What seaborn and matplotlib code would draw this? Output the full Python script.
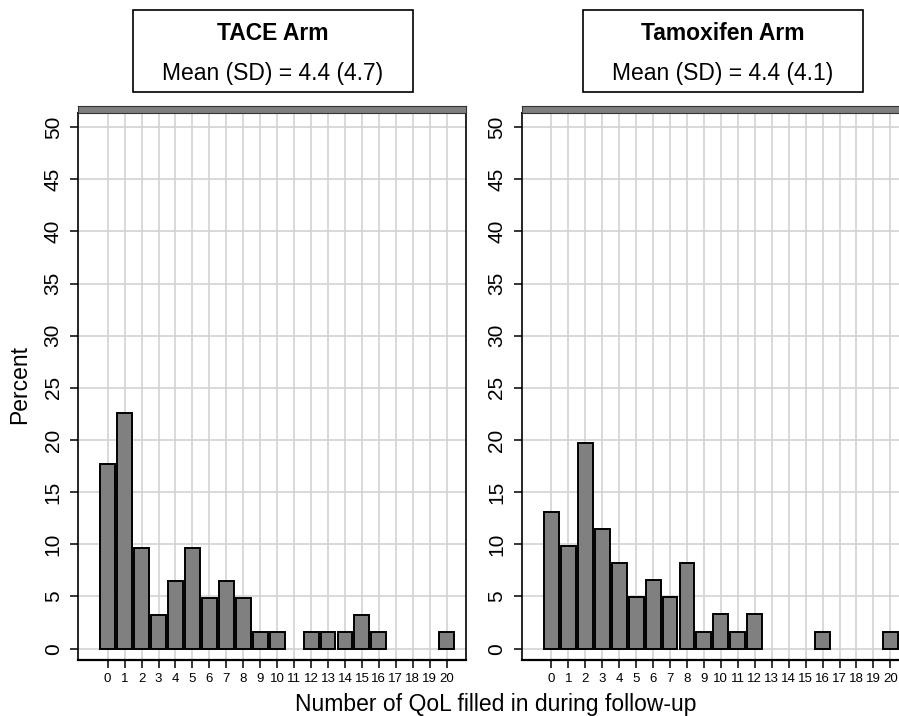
import matplotlib
matplotlib.use("Agg")
import matplotlib.pyplot as plt
from matplotlib.patches import Rectangle
import seaborn as sns
import pandas as pd

# ---- data ----
n_qol = list(range(21))
tace_pct = [17.74, 22.58, 9.68, 3.23, 6.45, 9.68, 4.84, 6.45, 4.84, 1.61, 1.61,
            0, 1.61, 1.61, 1.61, 3.23, 1.61, 0, 0, 0, 1.61]
tam_pct = [13.11, 9.84, 19.67, 11.48, 8.20, 4.92, 6.56, 4.92, 8.20, 1.64, 3.28,
           1.64, 3.28, 0, 0, 0, 1.64, 0, 0, 0, 1.64]
panel_titles = ["TACE Arm", "Tamoxifen Arm"]
panel_stats = ["Mean (SD) = 4.4 (4.7)", "Mean (SD) = 4.4 (4.1)"]
y_ticks = list(range(0, 51, 5))

sns.set_style("white")
plt.rcParams['font.family'] = ['Liberation Sans', 'DejaVu Sans']
plt.rcParams['text.color'] = 'black'
plt.rcParams['axes.labelcolor'] = 'black'
plt.rcParams['xtick.color'] = 'black'
plt.rcParams['ytick.color'] = 'black'

W, H = 899, 716
fig = plt.figure(figsize=(W / 100, H / 100), dpi=100)


def fr(x0, y0, x1, y1):
    return [x0 / W, 1 - y1 / H, (x1 - x0) / W, (y1 - y0) / H]


panels = [
    dict(ax=fr(78, 112.5, 466, 660), strip=fr(78, 106, 466, 112.5),
         box=(133, 10, 413, 92), data=tace_pct),
    dict(ax=fr(521.7, 112.5, 909.7, 660), strip=fr(521.7, 106, 909.7, 112.5),
         box=(583, 10, 863, 92), data=tam_pct),
]

for i, p in enumerate(panels):
    ax = fig.add_axes(p["ax"])
    df = pd.DataFrame({"n": n_qol, "pct": p["data"]})
    df = df[df["pct"] > 0]
    sns.barplot(data=df, x="n", y="pct", native_scale=True, width=0.88,
                color="#808080", saturation=1, edgecolor="black",
                linewidth=1.4, ax=ax, zorder=3)
    ax.set_xlim(-1.75, 21.14)
    ax.set_ylim(-1.09, 51.4)
    ax.set_xticks(n_qol)
    ax.set_xticklabels([str(v) for v in n_qol], fontsize=9.5, color="black")
    ax.set_yticks(y_ticks)
    ax.set_yticklabels([str(v) for v in y_ticks], fontsize=15, rotation=90,
                       va="center", color="black")
    ax.tick_params(axis="x", direction="out", length=6, width=1.1, pad=3,
                   bottom=True, colors="black")
    ax.tick_params(axis="y", direction="out", length=6, width=1.1, pad=5,
                   left=True, colors="black")
    ax.grid(True, color="#d3d3d3", linewidth=1.2, zorder=0)
    ax.set_axisbelow(True)
    for s in ax.spines.values():
        s.set_visible(True)
        s.set_color("black")
        s.set_linewidth(1.2)
    ax.spines["bottom"].set_linewidth(1.6)
    ax.set_xlabel("")
    ax.set_ylabel("")

    sax = fig.add_axes(p["strip"])
    sax.set_facecolor("#808080")
    sax.set_xticks([])
    sax.set_yticks([])
    for s in sax.spines.values():
        s.set_visible(True)
        s.set_color("#333333")
        s.set_linewidth(0.8)

    x0, y0, x1, y1 = p["box"]
    fig.patches.append(Rectangle((x0 / W, 1 - y1 / H), (x1 - x0) / W, (y1 - y0) / H,
                                 transform=fig.transFigure, facecolor="white",
                                 edgecolor="black", linewidth=1.2))
    cx = (x0 + x1) / 2 / W
    fig.text(cx, 1 - 40.5 / H, panel_titles[i], ha="center", va="baseline",
             fontsize=16.5, fontweight="bold", color="black")
    fig.text(cx, 1 - 80 / H, panel_stats[i], ha="center", va="baseline",
             fontsize=16.5, color="black")

fig.text(20 / W, 1 - 385 / H, "Percent", rotation=90, ha="center", va="center",
         fontsize=16.5, color="black")
fig.text(496 / W, 1 - 711 / H, "Number of QoL filled in during follow-up",
         ha="center", va="baseline", fontsize=16.5, color="black")

fig.savefig("out.png", dpi=100)
